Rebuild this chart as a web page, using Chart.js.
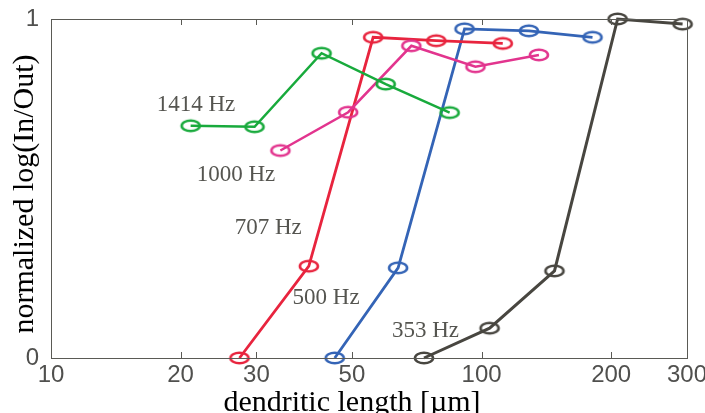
<!DOCTYPE html>
<html><head><meta charset="utf-8">
<script src="https://cdn.jsdelivr.net/npm/chart.js@4/dist/chart.umd.min.js"></script>
<style>html,body{margin:0;padding:0;background:#fff}#wrap{width:705px;height:413px}</style>
</head><body><div id="wrap"><canvas id="c" width="705" height="413"></canvas></div>
<script>
// ---- data ----
const xTickValues = [10, 20, 30, 50, 100, 200, 300];
const yTickValues = [0, 1];
const seriesLabels = ['1414 Hz', '1000 Hz', '707 Hz', '500 Hz', '353 Hz'];

const length1414 = [21.1, 29.7, 42.5, 59.9, 84.3];
const value1414  = [0.685, 0.682, 0.899, 0.808, 0.724];

const length1000 = [34.1, 49.0, 68.7, 96.8, 135.9];
const value1000  = [0.612, 0.725, 0.921, 0.859, 0.894];

const length707 = [27.4, 39.7, 56.0, 78.5, 112];
const value707  = [0.0, 0.271, 0.946, 0.936, 0.928];

const length500 = [45.6, 64.0, 91.3, 128.8, 181];
const value500  = [0.0, 0.266, 0.971, 0.965, 0.946];

const length353 = [73.5, 104.4, 147.7, 207, 293];
const value353  = [0.0, 0.088, 0.257, 1.0, 0.985];

// label anchor positions (data coords: left edge, vertical middle)
const labelX = [17.6, 21.8, 26.7, 36.4, 61.9];
const labelY = [0.746, 0.541, 0.383, 0.177, 0.080];

// ---- styling ----
const colors = ['rgb(24,170,60)', 'rgb(226,52,142)', 'rgb(232,36,62)', 'rgb(52,100,182)', 'rgb(72,70,64)'];
const lineWidths = [2.5, 2.5, 2.8, 2.8, 3];

function ellipseMarker(color) {
  const cv = document.createElement('canvas');
  cv.width = 26; cv.height = 18;
  const g = cv.getContext('2d');
  g.strokeStyle = color; g.lineWidth = 2.6;
  g.beginPath(); g.ellipse(13, 9, 9, 5.3, 0, 0, Math.PI * 2); g.stroke();
  return cv;
}

const xs = [length1414, length1000, length707, length500, length353];
const ys = [value1414, value1000, value707, value500, value353];

const datasets = seriesLabels.map((name, i) => ({
  label: name,
  data: xs[i].map((x, k) => ({x: x, y: ys[i][k]})),
  borderColor: colors[i],
  backgroundColor: 'transparent',
  borderWidth: lineWidths[i],
  pointStyle: ellipseMarker(colors[i]),
  pointRadius: 9,
  tension: 0,
  clip: false
}));

const framePlugin = {
  id: 'frame',
  afterDraw(chart) {
    const {ctx, chartArea: a, scales} = chart;
    ctx.save();
    ctx.strokeStyle = 'rgb(90,90,85)';
    ctx.lineWidth = 1;
    ctx.strokeRect(Math.round(a.left) + 0.5, Math.round(a.top) + 0.5, Math.round(a.right - a.left), Math.round(a.bottom - a.top));
    // inward tick marks on x axis (bottom and top)
    xTickValues.forEach(v => {
      const px = Math.round(scales.x.getPixelForValue(v)) + 0.5;
      ctx.beginPath();
      ctx.moveTo(px, a.bottom); ctx.lineTo(px, a.bottom - 6);
      ctx.moveTo(px, a.top); ctx.lineTo(px, a.top + 6);
      ctx.stroke();
    });
    // series annotations
    ctx.fillStyle = 'rgb(85,85,80)';
    ctx.font = '23px "Liberation Serif"';
    ctx.textAlign = 'left';
    ctx.textBaseline = 'middle';
    seriesLabels.forEach((t, i) => {
      ctx.fillText(t, scales.x.getPixelForValue(labelX[i]), scales.y.getPixelForValue(labelY[i]));
    });
    // axis titles
    ctx.fillStyle = '#000';
    ctx.font = '30px "Liberation Serif"';
    ctx.textAlign = 'center';
    ctx.textBaseline = 'alphabetic';
    ctx.fillText('dendritic length [\u00b5m]', 352, 411);
    ctx.translate(33, 194);
    ctx.rotate(-Math.PI / 2);
    ctx.fillText('normalized log(In/Out)', 0, 0);
    ctx.restore();
  }
};

new Chart(document.getElementById('c'), {
  type: 'line',
  data: {datasets},
  options: {
    responsive: false,
    animation: false,
    devicePixelRatio: 1,
    layout: {padding: {top: 19, right: 18, left: 0, bottom: 0}},
    plugins: {legend: {display: false}, tooltip: {enabled: false}},
    scales: {
      x: {
        type: 'logarithmic',
        min: 10, max: 300,
        grid: {display: false, drawTicks: false},
        border: {display: false},
        afterBuildTicks(s) { s.ticks = xTickValues.map(v => ({value: v})); },
        afterFit(s) { s.height = 55; s.paddingLeft = 0; s.paddingRight = 0; },
        ticks: {
          autoSkip: false, maxRotation: 0, padding: 3,
          color: 'rgb(80,80,78)',
          font: {family: 'Liberation Sans', size: 24},
          callback: v => String(v)
        }
      },
      y: {
        type: 'linear',
        min: 0, max: 1,
        grid: {display: false, drawTicks: false},
        border: {display: false},
        afterBuildTicks(s) { s.ticks = yTickValues.map(v => ({value: v})); },
        afterFit(s) { s.width = 51; s.paddingTop = 0; s.paddingBottom = 0; },
        ticks: {
          padding: 12,
          color: 'rgb(80,80,78)',
          font: {family: 'Liberation Sans', size: 24},
          callback: v => String(v)
        }
      }
    }
  },
  plugins: [framePlugin]
});
</script>
</body></html>
